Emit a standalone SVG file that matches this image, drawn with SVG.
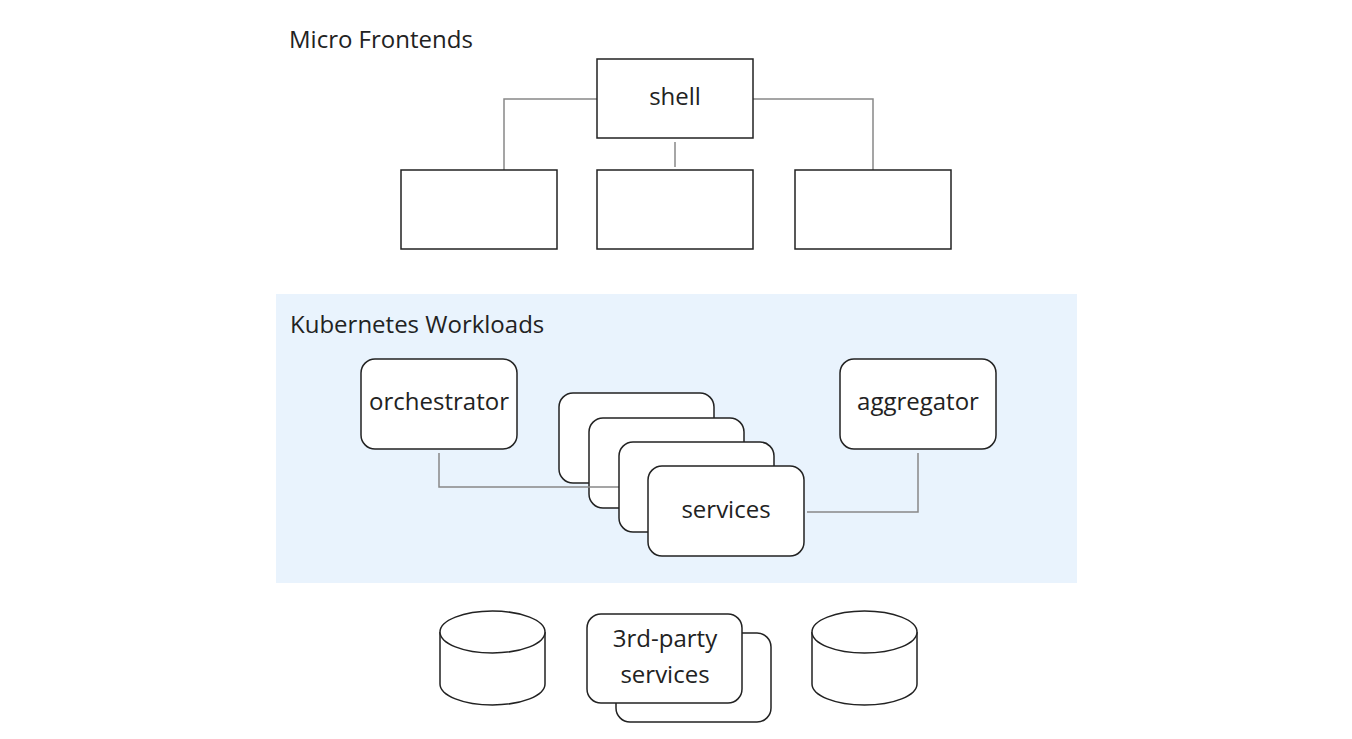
<svg xmlns="http://www.w3.org/2000/svg" width="1352" height="739" viewBox="0 0 1352 739">
<style>
.box{fill:#fff;stroke:#222;stroke-width:1.5}
.conn{fill:none;stroke:#888;stroke-width:1.5}
text{font-family:"Open Sans","Noto Sans",sans-serif;font-size:24px;fill:#222}
.c{text-anchor:middle}
</style>
<rect width="1352" height="739" fill="#fff"/>
<rect id="k8s-band" x="276" y="294" width="801" height="289" fill="#e9f3fd"/>
<text x="289" y="48">Micro Frontends</text>
<text x="290" y="333">Kubernetes Workloads</text>
<g id="connectors">
<path class="conn" d="M597 99 H504 V170"/>
<path class="conn" d="M753 99 H873 V170"/>
<path class="conn" d="M675 142 V167"/>
</g>
<g id="shell"><rect class="box" x="597" y="59" width="156" height="79"/><text class="c" x="675" y="105">shell</text></g>
<g id="mf1"><rect class="box" x="401" y="170" width="156" height="79"/></g>
<g id="mf2"><rect class="box" x="597" y="170" width="156" height="79"/></g>
<g id="mf3"><rect class="box" x="795" y="170" width="156" height="79"/></g>
<g id="orchestrator"><rect class="box" x="361" y="359" width="156" height="90" rx="14"/><text class="c" x="439" y="410">orchestrator</text></g>
<g id="aggregator"><rect class="box" x="840" y="359" width="156" height="90" rx="14"/><text class="c" x="918" y="410">aggregator</text></g>
<g id="services">
<rect class="box" x="559" y="393" width="155" height="90" rx="14"/>
<rect class="box" x="589" y="418" width="155" height="90" rx="14"/>
<path class="conn" d="M439 453 V487 H619"/>
<rect class="box" x="619" y="442" width="155" height="90" rx="14"/>
<rect class="box" x="648" y="466" width="156" height="90" rx="14"/>
<text class="c" x="726" y="518">services</text>
</g>
<g id="connectors2"><path class="conn" d="M918 453 V512 H807"/></g>
<g id="db1"><path class="box" d="M440 632 A52.5 21 0 0 1 545 632 V684 A52.5 21 0 0 1 440 684 Z"/><path class="box" d="M440 632 A52.5 21 0 0 0 545 632"/></g>
<g id="db2"><path class="box" d="M812 632 A52.5 21 0 0 1 917 632 V684 A52.5 21 0 0 1 812 684 Z"/><path class="box" d="M812 632 A52.5 21 0 0 0 917 632"/></g>
<g id="third-party">
<rect class="box" x="616" y="633" width="155" height="89" rx="14"/>
<rect class="box" x="587" y="614" width="155" height="89" rx="14"/>
<text class="c" x="665" y="647">3rd-party</text>
<text class="c" x="665" y="683">services</text>
</g>
</svg>
